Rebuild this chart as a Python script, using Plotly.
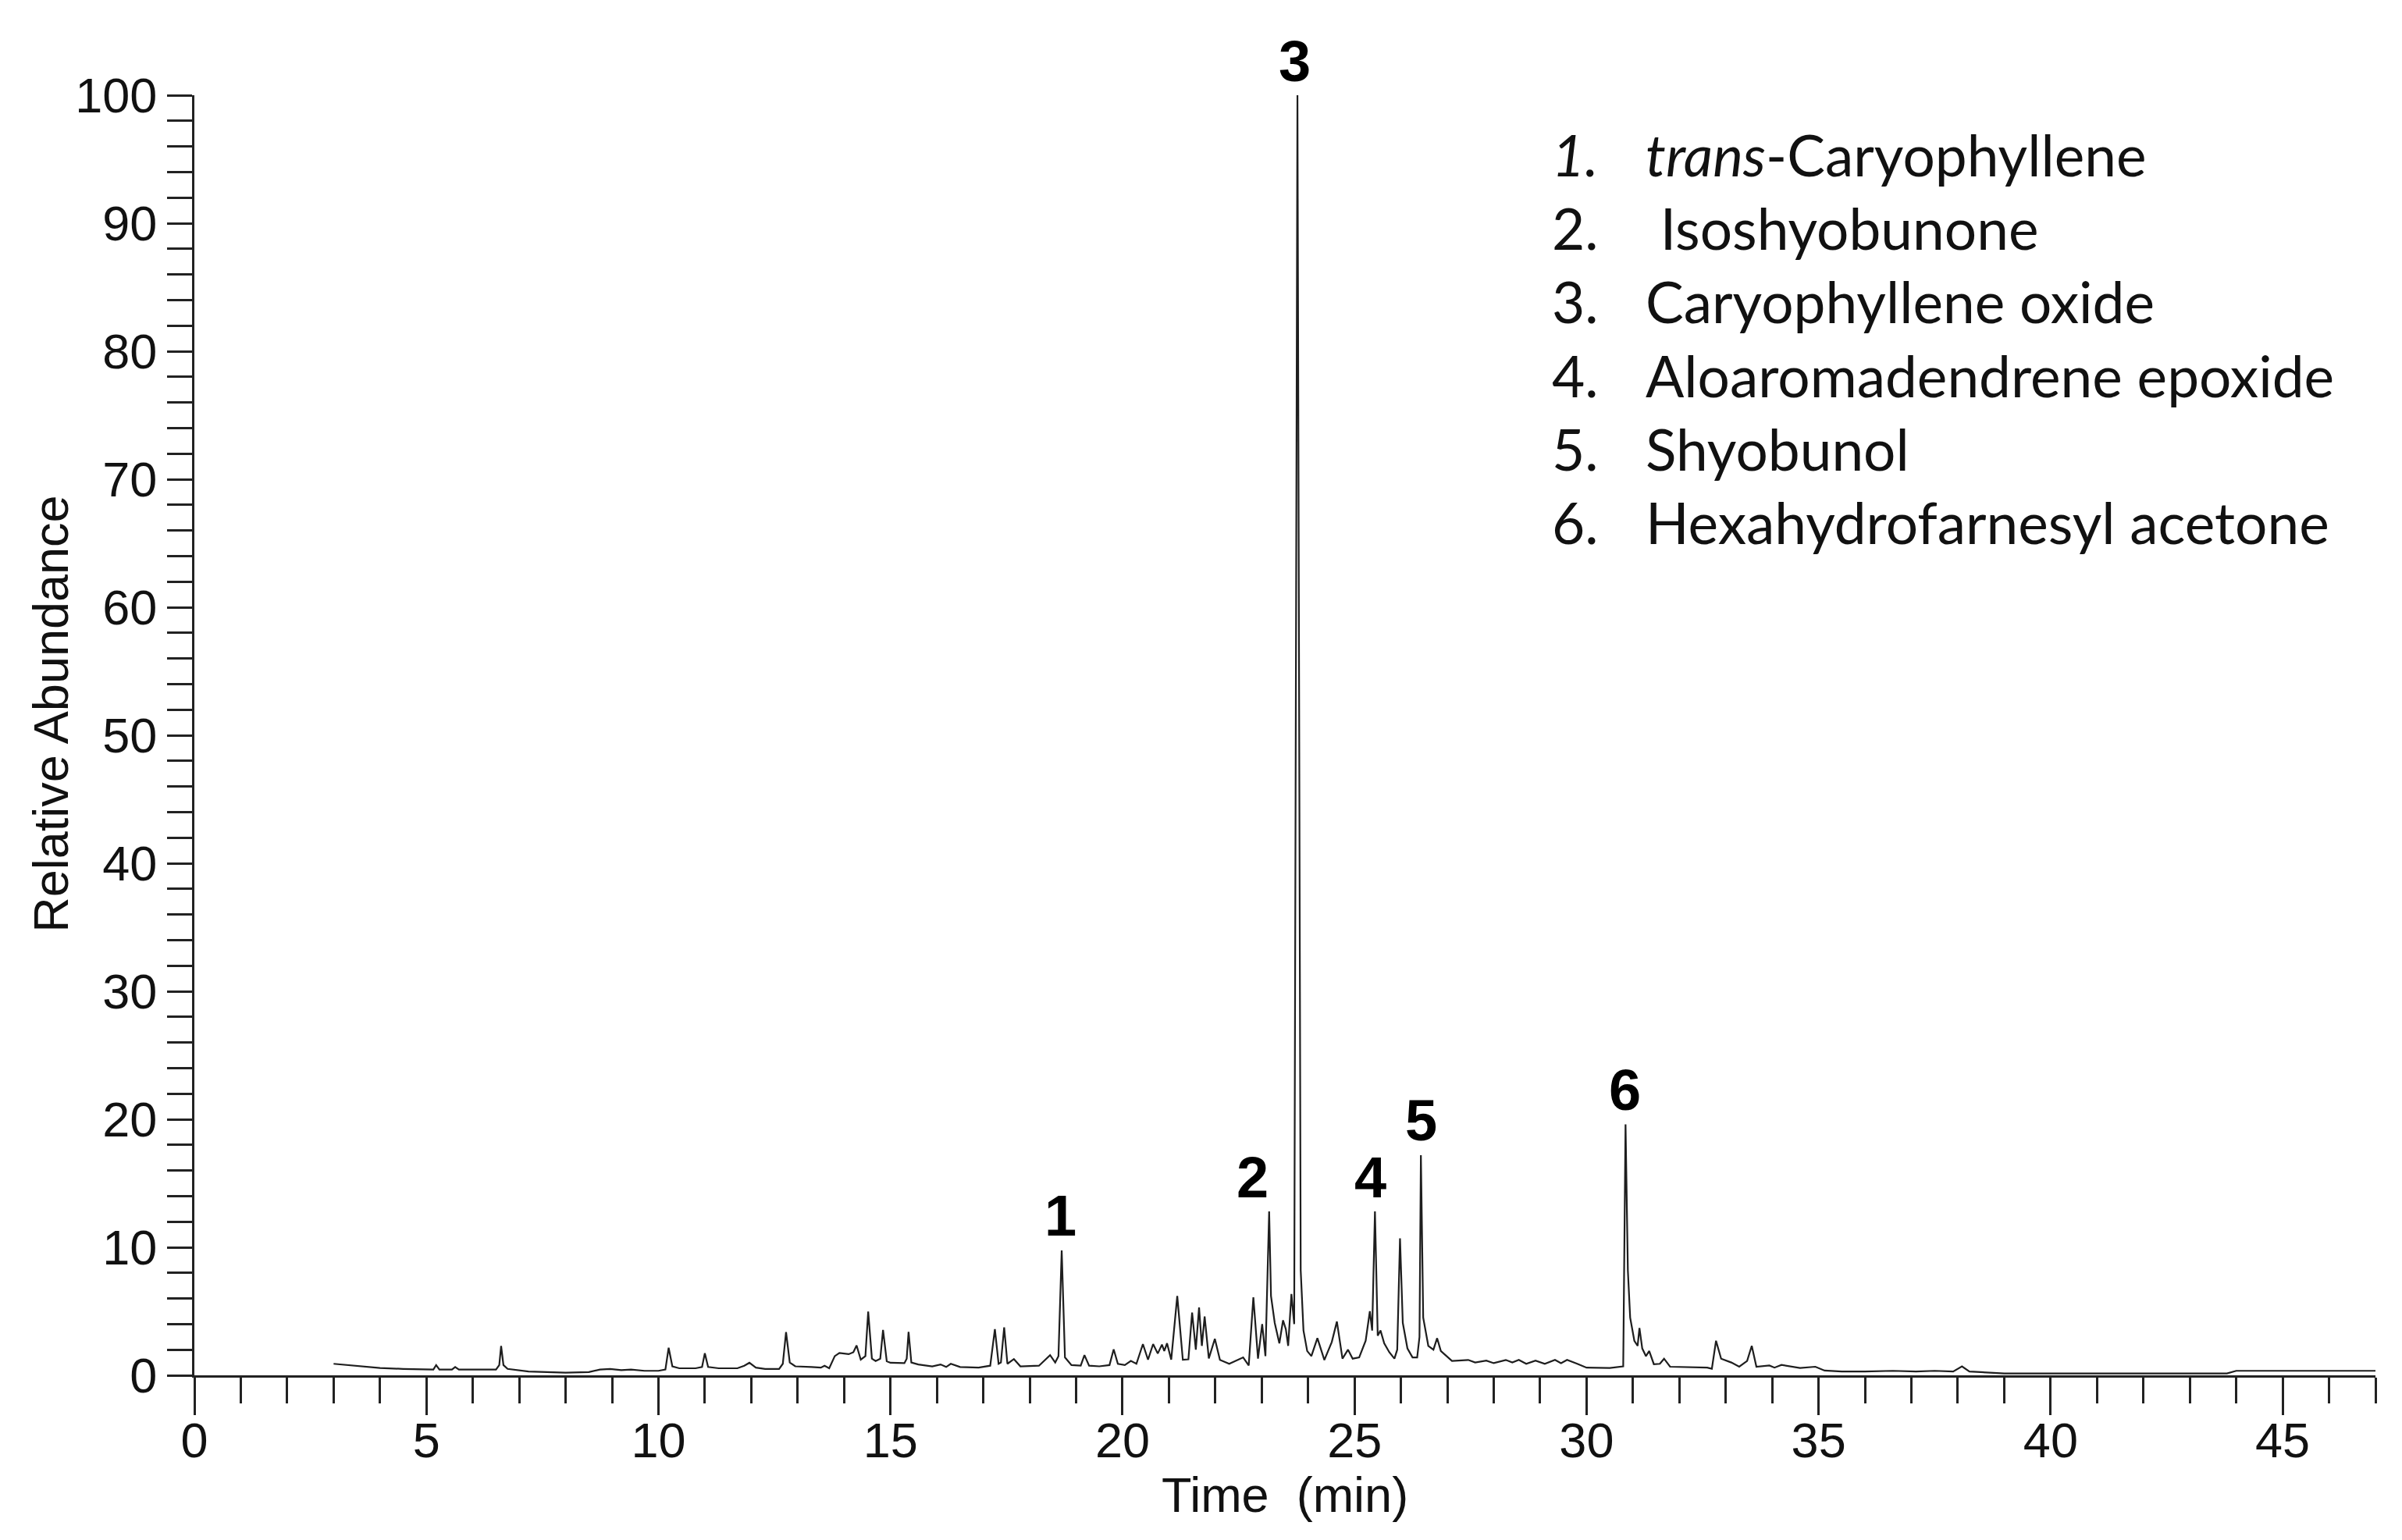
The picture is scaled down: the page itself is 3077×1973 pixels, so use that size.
import plotly.graph_objects as go

# chromatogram trace (retention time in min, relative abundance in %)
time_min = [
    3.0, 3.5, 4.0, 4.5, 5.0, 5.15, 5.21, 5.28, 5.55, 5.62, 5.7, 6.0, 6.5, 6.57, 6.61, 6.66, 6.75,
    7.2, 7.5, 8.0, 8.5, 8.74, 8.96, 9.2, 9.41, 9.7, 10.0, 10.15, 10.22, 10.3, 10.45, 10.8, 10.94,
    11.0, 11.07, 11.3, 11.7, 11.85, 11.96, 12.1, 12.3, 12.6, 12.68, 12.75, 12.83, 12.95, 13.3,
    13.5, 13.58, 13.68, 13.8, 13.9, 14.1, 14.2, 14.27, 14.36, 14.46, 14.52, 14.6, 14.68, 14.78,
    14.84, 14.92, 15.0, 15.3, 15.35, 15.39, 15.45, 15.6, 15.9, 16.08, 16.2, 16.3, 16.5, 16.9,
    17.15, 17.25, 17.33, 17.38, 17.45, 17.52, 17.66, 17.8, 18.2, 18.44, 18.55, 18.62, 18.69,
    18.76, 18.9, 19.1, 19.18, 19.28, 19.5, 19.72, 19.81, 19.9, 20.05, 20.18, 20.3, 20.44, 20.55,
    20.66, 20.76, 20.85, 20.9, 20.96, 21.05, 21.18, 21.3, 21.42, 21.5, 21.58, 21.65, 21.71,
    21.77, 21.86, 21.99, 22.1, 22.3, 22.6, 22.72, 22.82, 22.92, 23.01, 23.08, 23.16, 23.2,
    23.28, 23.38, 23.46, 23.52, 23.57, 23.64, 23.7, 23.77, 23.84, 23.9, 23.98, 24.07, 24.2,
    24.35, 24.51, 24.62, 24.74, 24.86, 24.96, 25.1, 25.24, 25.33, 25.38, 25.44, 25.5, 25.56,
    25.64, 25.75, 25.86, 25.92, 25.98, 26.04, 26.14, 26.25, 26.35, 26.4, 26.43, 26.48, 26.59,
    26.7, 26.78, 26.86, 27.1, 27.45, 27.6, 27.84, 28.0, 28.26, 28.4, 28.54, 28.7, 28.9, 29.1,
    29.32, 29.45, 29.58, 29.8, 30.0, 30.5, 30.79, 30.84, 30.89, 30.94, 31.03, 31.1, 31.14,
    31.2, 31.28, 31.35, 31.45, 31.58, 31.67, 31.8, 32.25, 32.6, 32.7, 32.79, 32.9, 33.12,
    33.29, 33.46, 33.56, 33.66, 33.94, 34.05, 34.2, 34.6, 34.93, 35.13, 35.5, 36.0, 36.6,
    37.1, 37.5, 37.9, 38.09, 38.25, 39.0, 40.0, 41.0, 42.0, 43.0, 43.8, 44.0, 45.0, 46.0, 47.0,
]
abundance = [
    0.9, 0.72, 0.57, 0.5, 0.45, 0.45, 0.8, 0.45, 0.45, 0.65, 0.45, 0.45, 0.45, 0.8, 2.3, 0.8, 0.5,
    0.3, 0.25, 0.2, 0.25, 0.45, 0.5, 0.4, 0.45, 0.35, 0.35, 0.45, 2.15, 0.7, 0.55, 0.55, 0.65,
    1.73, 0.65, 0.55, 0.55, 0.75, 0.98, 0.6, 0.5, 0.5, 0.9, 3.37, 1.0, 0.7, 0.65,
    0.6, 0.75, 0.55, 1.5, 1.75, 1.65, 1.8, 2.33, 1.22, 1.5, 4.98, 1.3, 1.12, 1.3,
    3.55, 1.1, 0.98, 0.95, 1.3, 3.39, 1.0, 0.85, 0.7, 0.85, 0.65, 0.9, 0.65, 0.6,
    0.75, 3.6, 0.9, 1.0, 3.75, 0.9, 1.27, 0.7, 0.75, 1.58, 1.0, 1.5, 9.76,
    1.4, 0.8, 0.75, 1.58, 0.75, 0.7, 0.8, 2.03, 0.9, 0.8, 1.12, 0.9, 2.44, 1.22,
    2.44, 1.7, 2.4, 1.9, 2.5, 1.22, 6.2, 1.22, 1.25, 4.9, 2.0, 5.3, 2.3,
    4.6, 1.32, 2.85, 1.2, 0.9, 1.4, 0.77, 6.1, 1.3, 4.0, 1.5, 12.8, 6.2,
    4.1, 2.5, 4.3, 3.6, 2.3, 6.35, 4.0, 100.0, 8.2, 3.5, 1.9, 1.5, 2.9,
    1.2, 2.6, 4.2, 1.3, 2.0, 1.3, 1.4, 2.7, 5.0, 3.5, 12.8, 3.1, 3.5,
    2.5, 1.8, 1.3, 2.0, 10.7, 4.1, 2.1, 1.4, 1.4, 3.0, 17.2, 4.5, 2.3,
    2.0, 2.9, 1.9, 1.12, 1.2, 1.0, 1.15, 0.95, 1.2, 1.0, 1.2, 0.9, 1.15, 0.9,
    1.2, 0.95, 1.2, 0.9, 0.6, 0.57, 0.7, 19.6, 8.2, 4.5, 2.7, 2.3, 3.7,
    2.1, 1.5, 1.9, 0.87, 0.9, 1.3, 0.67, 0.65, 0.6, 0.51, 2.7, 1.3, 1.0,
    0.67, 1.12, 2.3, 0.67, 0.77, 0.6, 0.81, 0.57, 0.67, 0.37, 0.3, 0.3, 0.35,
    0.3, 0.35, 0.3, 0.7, 0.3, 0.15, 0.15, 0.15, 0.15, 0.15, 0.15, 0.35, 0.35, 0.35, 0.35,
]

# labelled peaks
peak_numbers = ['1', '2', '3', '4', '5', '6']
peak_times = [18.69, 23.16, 23.77, 25.44, 26.43, 30.84]
peak_heights = [9.76, 12.8, 100.0, 12.8, 17.2, 19.6]
peak_xshift = [-2, -21, -4, -6, 0, -1]

compound_names = [
    '<i>trans</i>-Caryophyllene',
    '\u00a0Isoshyobunone',
    'Caryophyllene oxide',
    'Aloaromadendrene epoxide',
    'Shyobunol',
    'Hexahydrofarnesyl acetone',
]
compound_numbers = ['<i>1.</i>', '2.', '3.', '4.', '5.', '6.']

x_ticks = [0, 5, 10, 15, 20, 25, 30, 35, 40, 45]
y_ticks = [0, 10, 20, 30, 40, 50, 60, 70, 80, 90, 100]

axis_font = dict(family='Liberation Sans, Arial', size=63, color='#111111')
legend_font = dict(family='Lato, Open Sans', size=73, color='#111111')
ink = '#222222'

fig = go.Figure()
fig.add_trace(go.Scatter(
    x=time_min,
    y=abundance,
    mode='lines',
    line=dict(color='#1e1e1e', width=2.2),
    hoverinfo='skip',
    showlegend=False,
))

for num, t, h, dx in zip(peak_numbers, peak_times, peak_heights, peak_xshift):
    fig.add_annotation(
        x=t, y=h, text='<b>' + num + '</b>', showarrow=False,
        xshift=dx, yshift=44, yanchor='middle',
        font=dict(family='Liberation Sans, Arial', size=74, color='#000000'),
    )

# compound list in the upper right
for i, (num, name) in enumerate(zip(compound_numbers, compound_names)):
    yp = 0.9537 - i * 0.05744
    fig.add_annotation(x=0.6217, y=yp, xref='paper', yref='paper', text=num,
                       showarrow=False, xanchor='left', yanchor='middle', font=legend_font)
    fig.add_annotation(x=0.6646, y=yp, xref='paper', yref='paper', text=name,
                       showarrow=False, xanchor='left', yanchor='middle', font=legend_font)

# axis titles
fig.add_annotation(x=0.5, y=-0.093, xref='paper', yref='paper', text='Time\u00a0 (min)',
                   showarrow=False, xanchor='center', yanchor='middle', font=axis_font)
fig.add_annotation(x=-0.0659, y=0.5165, xref='paper', yref='paper', text='Relative Abundance',
                   showarrow=False, textangle=-90, xanchor='center', yanchor='middle',
                   font=axis_font)

fig.update_layout(
    width=3077,
    height=1973,
    margin=dict(l=249, r=34, t=122, b=211),
    paper_bgcolor='white',
    plot_bgcolor='white',
    font=axis_font,
    xaxis=dict(
        range=[0, 47],
        tickvals=x_ticks,
        ticks='outside',
        ticklen=48,
        tickwidth=3,
        tickcolor=ink,
        ticklabelstandoff=-22,
        showline=True,
        linecolor=ink,
        linewidth=3,
        showgrid=False,
        zeroline=False,
        tickfont=axis_font,
        minor=dict(dtick=1, ticks='outside', ticklen=33, tickwidth=2.5, tickcolor=ink),
    ),
    yaxis=dict(
        range=[0, 100],
        tickvals=y_ticks,
        ticks='outside',
        ticklen=32,
        tickwidth=3,
        tickcolor=ink,
        showline=True,
        linecolor=ink,
        linewidth=3,
        showgrid=False,
        zeroline=False,
        tickfont=axis_font,
        minor=dict(dtick=2, ticks='outside', ticklen=32, tickwidth=3, tickcolor=ink),
    ),
)

fig.write_html("out.html", config={'displayModeBar': False},
               post_script="document.body.style.margin='0';")
